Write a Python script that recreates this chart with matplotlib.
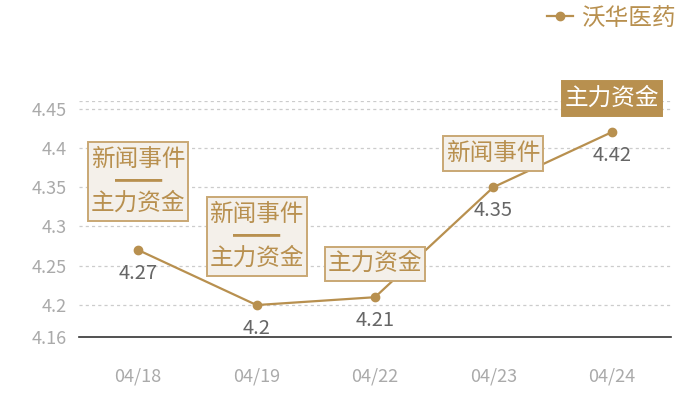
import matplotlib
matplotlib.use("Agg")
import matplotlib.pyplot as plt
from matplotlib.lines import Line2D

plt.rcParams['font.family'] = ['Noto Sans CJK SC', 'DejaVu Sans']

dates = ["04/18", "04/19", "04/22", "04/23", "04/24"]
prices = [4.27, 4.20, 4.21, 4.35, 4.42]
events = ["新闻事件\n━━\n主力资金", "新闻事件\n━━\n主力资金", "主力资金", "新闻事件", "主力资金"]
event_highlight = [False, False, False, False, True]
yticks = [4.16, 4.2, 4.25, 4.3, 4.35, 4.4, 4.45]
ytick_labels = ["4.16", "4.2", "4.25", "4.3", "4.35", "4.4", "4.45"]
series_name = "沃华医药"

GOLD = "#b8904f"
BOX_FILL = "#f4f0ea"
BOX_EDGE = "#c9a874"

fig = plt.figure(figsize=(7, 4), dpi=100)
ax = fig.add_axes([79/700, 1-336.5/400, 592/700, 235.8/400])

x = list(range(len(dates)))
ax.plot(x, prices, color=GOLD, lw=1.6, marker='o', ms=6, mec=GOLD, mfc=GOLD, zorder=3)

ax.set_xlim(-0.5, len(dates) - 0.5)
ax.set_ylim(4.16, 4.46)
ax.set_xticks(x)
ax.set_xticklabels(dates)
ax.set_yticks(yticks)
ax.set_yticklabels(ytick_labels)

for spine in ['top', 'right', 'left']:
    ax.spines[spine].set_visible(False)
ax.spines['bottom'].set_color('#333333')
ax.spines['bottom'].set_linewidth(1.2)

ax.tick_params(axis='both', length=0, colors='#aaaaaa', labelsize=13)
ax.tick_params(axis='x', pad=22)
ax.tick_params(axis='y', pad=9)

for yv in yticks[1:] + [4.46]:
    ax.axhline(yv, color='#cccccc', lw=0.9, ls=(0, (2.5, 2.5)), zorder=1)

for i, (p, ev, hl) in enumerate(zip(prices, events, event_highlight)):
    ax.annotate(f"{p:g}", (i, p), xytext=(0, -13), textcoords='offset pixels',
                ha='center', va='top', fontsize=14.5, color='#666666', zorder=4)
    two_line = "\n" in ev
    gap = 35 if two_line else 22
    ax.annotate(ev, (i, p), xytext=(0, gap), textcoords='offset pixels',
                ha='center', va='bottom', fontsize=17, multialignment='center',
                color='white' if hl else GOLD, linespacing=0.95, zorder=5,
                bbox=dict(boxstyle='square,pad=0.12', mutation_aspect=2.0,
                          fc=GOLD if hl else BOX_FILL,
                          ec=GOLD if hl else BOX_EDGE, lw=1.4))

handle = Line2D([0], [0], color=GOLD, lw=1.6, marker='o', ms=6, mfc=GOLD, mec=GOLD)
fig.legend([handle], [series_name], loc='center right', bbox_to_anchor=(685/700, 1-18/400),
           frameon=False, fontsize=17, labelcolor=GOLD, handlelength=1.1,
           handletextpad=0.35, borderaxespad=0)

fig.savefig("out.png", dpi=100)
